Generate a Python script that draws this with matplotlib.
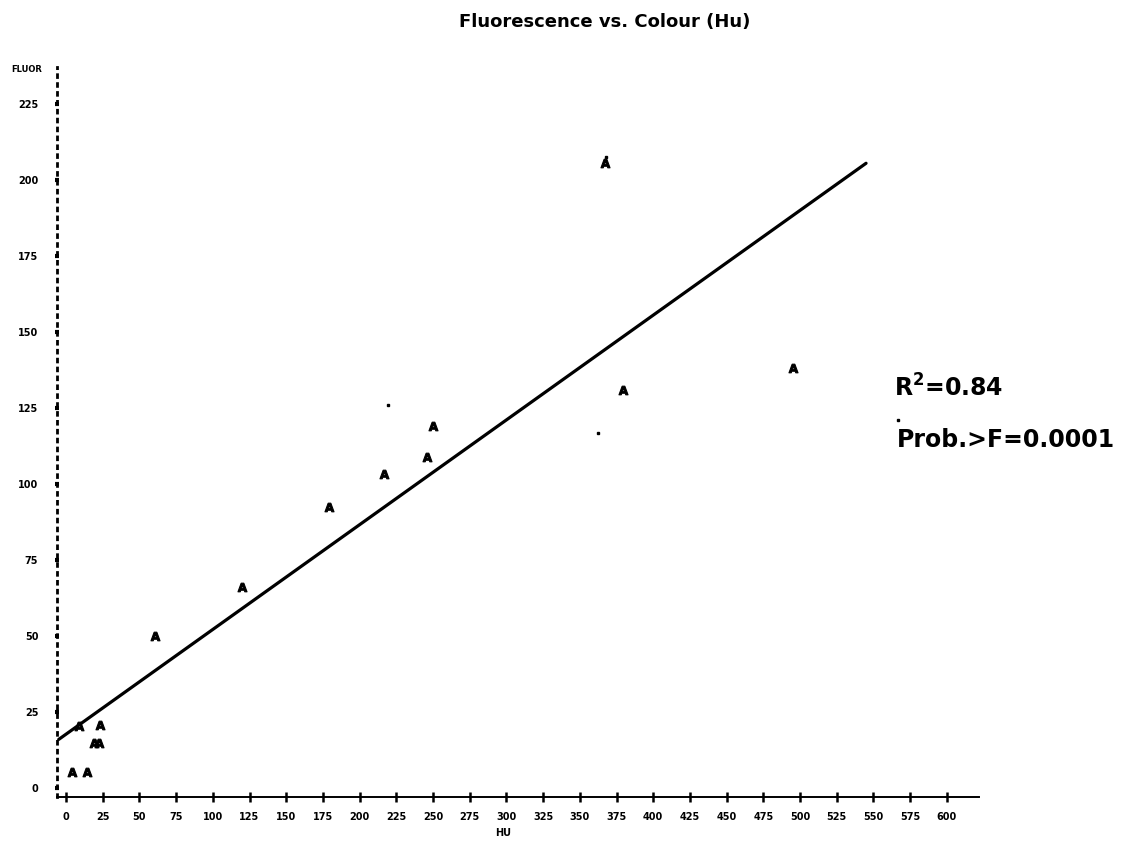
import numpy as np
import matplotlib
matplotlib.use("Agg")
import matplotlib.pyplot as plt

hu = [4, 14, 9, 23, 19, 22.5, 60.5, 120, 179, 216.5, 246, 250, 379.5, 495, 367]
fluor = [5.3, 5.3, 20.4, 20.7, 14.8, 14.8, 50, 66, 92.4, 103.3, 108.9, 119, 130.9, 138, 205.6]

# small stray marks visible on the scan
speck_hu = [219.3, 362.4, 367.6, 566.8]
speck_fluor = [126.0, 116.8, 207.6, 121.0]

# fitted regression line end points
fit_hu = [-5, 545]
fit_fluor = [16, 205.5]

x_ticks = list(range(0, 601, 25))
y_ticks = list(range(0, 226, 25))

fig = plt.figure(figsize=(11.36, 8.44), dpi=100)
ax = fig.add_axes([0, 0, 1, 1])
ax.set_xlim(-45.0, 728.9)
ax.set_ylim(-18.4, 259.2)

ax.plot(fit_hu, fit_fluor, color="black", lw=2.3, solid_capstyle="round")
ax.plot(hu, fluor, linestyle="none", marker="$\\mathbf{A}$", markersize=6.5,
        color="black", markeredgewidth=0.8)
ax.plot(speck_hu, speck_fluor, linestyle="none", marker="s", markersize=2,
        color="black")

# axes drawn the way the old line-printer plot does it
for side in ("top", "right"):
    ax.spines[side].set_visible(False)
ax.spines["left"].set_position(("data", -6.1))
ax.spines["left"].set_bounds(-3.0, 237)
ax.spines["left"].set_linewidth(2)
ax.spines["left"].set_linestyle((0, (1, 2.2)))
ax.spines["bottom"].set_position(("data", -3.0))
ax.spines["bottom"].set_bounds(-6.1, 622)
ax.spines["bottom"].set_linewidth(1.4)
ax.spines["bottom"].set_linestyle((0, (3, 1)))

ax.set_xticks(x_ticks)
ax.set_yticks(y_ticks)
ax.set_xticklabels([str(v) for v in x_ticks], fontsize=7, fontweight="bold")
ax.set_yticklabels([str(v) for v in y_ticks], fontsize=7, fontweight="bold")
ax.tick_params(axis="x", direction="inout", length=7, width=1.8, pad=7)
ax.tick_params(axis="y", direction="inout", length=3, width=3, pad=12)

fig.text(27 / 1136, 1 - 70 / 844, "FLUOR", fontsize=6, fontweight="bold",
         ha="center", va="center")
fig.text(503 / 1136, 1 - 833 / 844, "HU", fontsize=7, fontweight="bold",
         ha="center", va="center")
fig.text(605 / 1136, 1 - 22 / 844, "Fluorescence vs. Colour (Hu)",
         fontsize=13, fontweight="bold", ha="center", va="center")

fig.text(894 / 1136, 1 - 388 / 844, "R$^\\mathbf{2}$=0.84", fontsize=17,
         fontweight="bold", ha="left", va="center")
fig.text(897 / 1136, 1 - 440 / 844, "Prob.>F=0.0001", fontsize=17,
         fontweight="bold", ha="left", va="center")

fig.savefig("out.png", dpi=100)
